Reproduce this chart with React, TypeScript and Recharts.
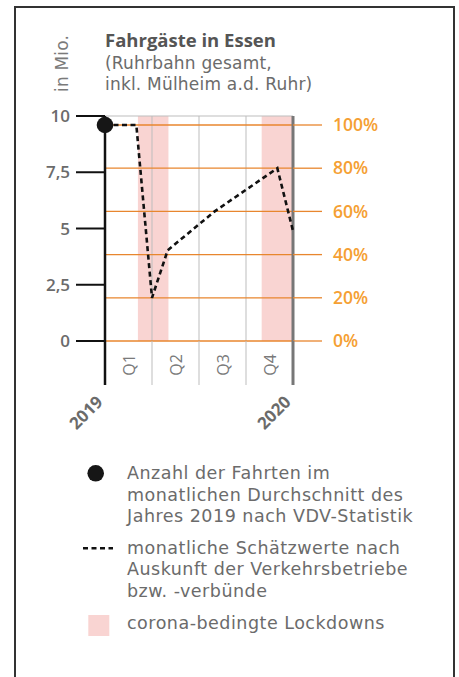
import React from "react";
import { ComposedChart, Line, XAxis, YAxis, ReferenceArea, ReferenceLine } from "recharts";

const FONT = "'Open Sans', sans-serif";
const TEXT_FONT = "'DejaVu Sans', sans-serif";
const ORANGE_LINE = "#e8862e";
const ORANGE_TEXT = "#f5a033";
const PINK = "#f9d4d2";
const GREY_TEXT = "#6b6b6b";

// 2020 monthly estimates, in % of the 2019 monthly average
const estimateMonths = [0, 2, 3, 4, 7, 11, 12];
const estimatePercent = [100, 100, 20, 42, 60, 80, 51];
// 2019 monthly average (Mio. trips, VDV)
const average2019 = 9.6;

const leftTicks = [0, 2.5, 5, 7.5, 10];
const rightTicks = [0, 20, 40, 60, 80, 100];
const quarterBounds = [0, 3, 6, 9, 12];
const quarterLabels = ["Q1", "Q2", "Q3", "Q4"];
const yearLabels = ["2019", "2020"];
const lockdownStart = [2.1, 10];
const lockdownEnd = [4.05, 12];

const legendDot = ["Anzahl der Fahrten im", "monatlichen Durchschnitt des", "Jahres 2019 nach VDV-Statistik"];
const legendLine = ["monatliche Schätzwerte nach", "Auskunft der Verkehrsbetriebe", "bzw. -verbünde"];
const legendArea = ["corona-bedingte Lockdowns"];

const estimates = estimateMonths.map((m, i) => ({ m, pct: estimatePercent[i] }));
const averagePoint = [{ m: 0, mio: average2019 }];
const leftMax = leftTicks[leftTicks.length - 1];
const rightMax = (leftMax / average2019) * 100;
const quarterMids = quarterLabels.map((_, i) => (quarterBounds[i] + quarterBounds[i + 1]) / 2);
const xTicks = [...quarterBounds, ...quarterMids].sort((a, b) => a - b);

const XTick = (props: any) => {
  const { x, y, payload } = props;
  const v = payload.value;
  const b = quarterBounds.indexOf(v);
  if (b >= 0) {
    const first = b === 0;
    const last = b === quarterBounds.length - 1;
    const ax = x - 1;
    const ay = y + 62;
    return (
      <g>
        <line
          x1={x}
          x2={x}
          y1={y}
          y2={y + 44}
          stroke={first ? "#111" : last ? "#777" : "#bdbdbd"}
          strokeWidth={first ? 2.5 : last ? 3 : 1}
        />
        {(first || last) && (
          <text
            x={ax}
            y={ay}
            transform={`rotate(-45 ${ax} ${ay})`}
            textAnchor="end"
            fill={GREY_TEXT}
            fontSize={17}
            fontWeight={700}
            fontFamily={FONT}
          >
            {first ? yearLabels[0] : yearLabels[1]}
          </text>
        )}
      </g>
    );
  }
  const q = quarterMids.indexOf(v);
  const qy = y + 24;
  return (
    <text
      x={x}
      y={qy}
      transform={`rotate(-90 ${x} ${qy})`}
      textAnchor="middle"
      dominantBaseline="central"
      fill="#7a7a7a"
      fontSize={16}
      fontFamily={FONT}
    >
      {quarterLabels[q]}
    </text>
  );
};

export default function App() {
  const textProps = { fontFamily: TEXT_FONT, fontSize: 17.5, letterSpacing: 0.5, fill: GREY_TEXT };
  const subProps = { fontFamily: TEXT_FONT, fontSize: 17, letterSpacing: 0.2, fill: GREY_TEXT };
  return (
    <div style={{ position: "absolute", left: 0, top: 0, width: 459, height: 677, overflow: "hidden", background: "#fff" }}>
      <div
        style={{
          position: "absolute",
          left: 14,
          top: 6,
          width: 441,
          height: 720,
          border: "2px solid #333",
          boxSizing: "border-box",
        }}
      />
      <div style={{ position: "absolute", left: 0, top: 0 }}>
        <ComposedChart width={459} height={440} margin={{ top: 116, right: 0, bottom: 0, left: 0 }}>
          <XAxis
            dataKey="m"
            type="number"
            domain={[0, 12]}
            ticks={xTicks}
            interval={0}
            axisLine={false}
            tickLine={false}
            tickSize={0}
            tickMargin={0}
            height={99}
            tick={<XTick />}
          />
          <YAxis
            yAxisId="left"
            domain={[0, leftMax]}
            ticks={leftTicks}
            interval={0}
            width={105}
            tickSize={29}
            tickMargin={6}
            axisLine={{ stroke: "#111", strokeWidth: 2.5 }}
            tickLine={{ stroke: "#111", strokeWidth: 2 }}
            tickFormatter={(v: number) => String(v).replace(".", ",")}
            tick={{ fill: GREY_TEXT, fontSize: 17, fontWeight: 600, fontFamily: FONT }}
          />
          <YAxis
            yAxisId="right"
            orientation="right"
            domain={[0, rightMax]}
            ticks={rightTicks}
            interval={0}
            width={166}
            tickSize={29}
            tickMargin={11}
            axisLine={false}
            tickLine={{ stroke: ORANGE_LINE, strokeWidth: 1.3 }}
            tickFormatter={(v: number) => `${v}%`}
            tick={{ fill: ORANGE_TEXT, fontSize: 17.5, fontWeight: 600, fontFamily: FONT }}
          />
          {lockdownStart.map((s, i) => (
            <ReferenceArea
              key={`ld${i}`}
              yAxisId="left"
              x1={s}
              x2={lockdownEnd[i]}
              y1={0}
              y2={leftMax}
              fill={PINK}
              fillOpacity={1}
              stroke="none"
            />
          ))}
          <ReferenceLine yAxisId="left" y={leftMax} stroke="#bdbdbd" strokeWidth={1} />
          {quarterBounds.slice(1, -1).map((q) => (
            <ReferenceLine key={`q${q}`} yAxisId="left" x={q} stroke="#bdbdbd" strokeWidth={1} />
          ))}
          {rightTicks.map((t) => (
            <ReferenceLine key={`r${t}`} yAxisId="right" y={t} stroke={ORANGE_LINE} strokeWidth={1.3} />
          ))}
          <ReferenceLine yAxisId="left" x={quarterBounds[quarterBounds.length - 1]} stroke="#777" strokeWidth={3} />
          <Line
            yAxisId="right"
            data={estimates}
            dataKey="pct"
            type="linear"
            stroke="#111"
            strokeWidth={2.6}
            strokeDasharray="5 3.5"
            dot={false}
            activeDot={false}
            isAnimationActive={false}
          />
          <Line
            yAxisId="left"
            data={averagePoint}
            dataKey="mio"
            stroke="none"
            dot={{ r: 8.3, fill: "#161616", stroke: "none" }}
            activeDot={false}
            isAnimationActive={false}
          />
        </ComposedChart>
      </div>
      <svg width={459} height={677} style={{ position: "absolute", left: 0, top: 0, pointerEvents: "none" }}>
        <text x={105} y={47.3} fontFamily={FONT} fontSize={18.5} fill="#555" fontWeight={700}>
          Fahrgäste in Essen
        </text>
        <text x={105} y={68.8} {...subProps}>
          (Ruhrbahn gesamt,
        </text>
        <text x={105} y={90.4} {...subProps}>
          inkl. Mülheim a.d. Ruhr)
        </text>
        <text transform="translate(68 92) rotate(-90)" {...subProps} fill="#7a7a7a">
          in Mio.
        </text>

        <circle cx={95.7} cy={473.3} r={8.3} fill="#161616" />
        {legendDot.map((t, i) => (
          <text key={t} x={127} y={479.3 + i * 21.4} {...textProps}>
            {t}
          </text>
        ))}
        <line x1={83} x2={113} y1={548.3} y2={548.3} stroke="#111" strokeWidth={2.5} strokeDasharray="5 3.5" />
        {legendLine.map((t, i) => (
          <text key={t} x={127} y={554 + i * 21.4} {...textProps}>
            {t}
          </text>
        ))}
        <rect x={88.3} y={615} width={21} height={21} fill={PINK} />
        {legendArea.map((t, i) => (
          <text key={t} x={127} y={629.3 + i * 21.4} {...textProps}>
            {t}
          </text>
        ))}
      </svg>
    </div>
  );
}
